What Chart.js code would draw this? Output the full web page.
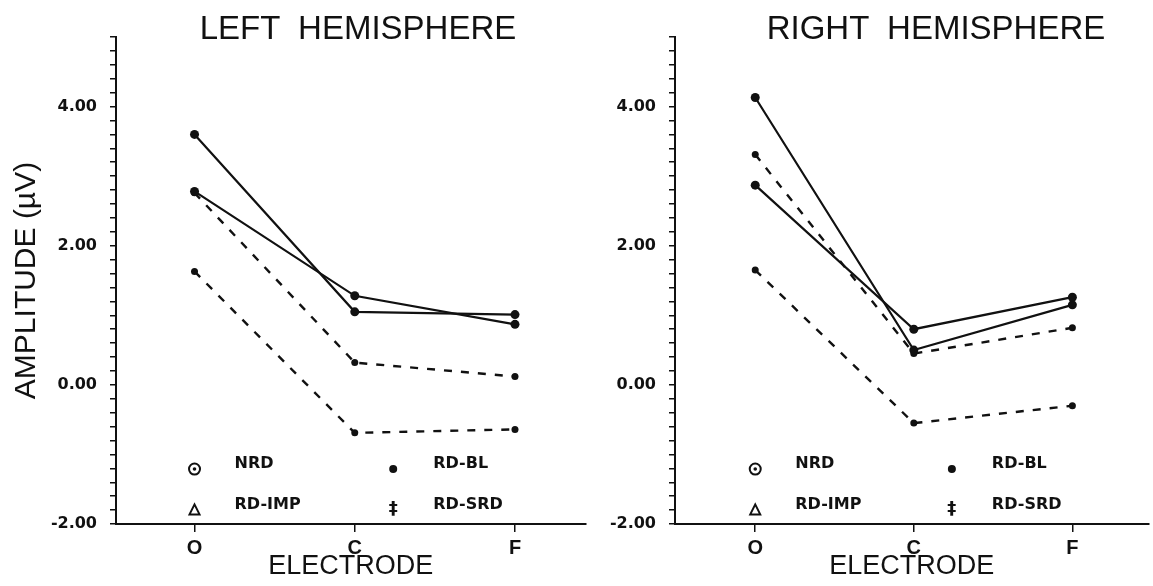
<!DOCTYPE html>
<html lang="en">
<head>
<meta charset="UTF-8">
<title>Amplitude by electrode</title>
<script src="https://cdn.jsdelivr.net/npm/chart.js"></script>
<style>
  body { margin: 0; background: #fff; }
  #wrap { position: relative; width: 1153px; height: 586px; overflow: hidden; }
  canvas { position: absolute; top: 0; }
  #leftChart { left: 0; }
  #rightChart { left: 590px; }
  .title {
    position: absolute; top: 11px;
    font: 33px 'Liberation Sans', sans-serif; line-height: 33px;
    white-space: pre; transform: translateX(-50%); color: #111;
  }
</style>
</head>
<body>
<div id="wrap">
  <canvas id="leftChart" width="590" height="586"></canvas>
  <canvas id="rightChart" width="563" height="586"></canvas>
  <div class="title" style="left:358px">LEFT  HEMISPHERE</div>
  <div class="title" style="left:936px">RIGHT  HEMISPHERE</div>
</div>
<script>
  // electrode sites on the x axis
  const electrodes = ['O', 'C', 'F'];
  const groups = ['NRD', 'RD-BL', 'RD-IMP', 'RD-SRD'];
  const labelledTicks = [-2, 0, 2, 4];

  // mean amplitude (µV) at O, C, F
  const leftNRD = [2.78, 1.28, 0.87];
  const leftRDBL = [3.60, 1.05, 1.01];
  const leftRDIMP = [2.76, 0.32, 0.12];
  const leftRDSRD = [1.63, -0.69, -0.64];

  const rightNRD = [2.87, 0.80, 1.26];
  const rightRDBL = [4.13, 0.50, 1.15];
  const rightRDIMP = [3.31, 0.45, 0.82];
  const rightRDSRD = [1.65, -0.55, -0.30];

  const INK = '#111';

  function drawSymbol(ctx, g, x, y) {
    ctx.save();
    ctx.strokeStyle = INK;
    ctx.fillStyle = INK;
    ctx.lineWidth = 2;
    if (g === 'NRD') {
      ctx.beginPath(); ctx.arc(x, y, 5.5, 0, Math.PI * 2); ctx.stroke();
      ctx.beginPath(); ctx.arc(x, y, 1.8, 0, Math.PI * 2); ctx.fill();
    } else if (g === 'RD-BL') {
      ctx.beginPath(); ctx.arc(x, y, 4, 0, Math.PI * 2); ctx.fill();
    } else if (g === 'RD-IMP') {
      ctx.beginPath();
      ctx.moveTo(x - 5, y + 5); ctx.lineTo(x + 5, y + 5); ctx.lineTo(x, y - 5);
      ctx.closePath(); ctx.stroke();
    } else {
      ctx.font = 'bold 18px "DejaVu Sans", sans-serif';
      ctx.textAlign = 'center'; ctx.textBaseline = 'middle';
      ctx.fillText('\u2021', x, y);
    }
    ctx.restore();
  }

  // 2x2 key inside the lower part of each plot
  const groupKey = {
    id: 'groupKey',
    afterDatasetsDraw(chart) {
      const { ctx, scales: { x, y } } = chart;
      const cols = [x.getPixelForValue(0), x.getPixelForValue(1.24)];
      const rows = [y.getPixelForValue(-1.21), y.getPixelForValue(-1.79)];
      const slots = [[0, 0], [1, 0], [0, 1], [1, 1]];
      ctx.save();
      ctx.font = 'bold 16px "DejaVu Sans", sans-serif';
      ctx.fillStyle = INK;
      ctx.textBaseline = 'middle';
      groups.forEach((g, i) => {
        const mx = cols[slots[i][0]], my = rows[slots[i][1]];
        drawSymbol(ctx, g, mx, my);
        ctx.fillText(g, mx + 40, my - 5);
      });
      ctx.restore();
    }
  };

  function series(values, dashed, radius) {
    return {
      data: values.map((v, i) => ({ x: i, y: v })),
      borderColor: INK,
      backgroundColor: INK,
      borderWidth: dashed ? 2.4 : 2.2,
      borderDash: dashed ? [8, 9] : [],
      pointRadius: radius,
      pointBorderWidth: 0,
      tension: 0
    };
  }

  function makeChart(id, data, cfg) {
    new Chart(document.getElementById(id), {
      type: 'line',
      data: {
        datasets: [
          series(data[0], false, 4.5),
          series(data[1], false, 4.5),
          series(data[2], true, 3.5),
          series(data[3], true, 3.5)
        ]
      },
      options: {
        responsive: false,
        animation: false,
        devicePixelRatio: 1,
        layout: { padding: { top: 37, right: cfg.padRight, left: 0, bottom: 0 } },
        plugins: { legend: { display: false }, tooltip: { enabled: false } },
        scales: {
          x: {
            type: 'linear',
            min: cfg.xMin,
            max: cfg.xMax,
            afterBuildTicks: s => { s.ticks = electrodes.map((_, i) => ({ value: i })); },
            afterFit: s => { s.height = 62; },
            border: { display: true, color: INK, width: 2 },
            grid: { drawOnChartArea: false, tickLength: 8, color: INK, lineWidth: 1.5 },
            ticks: {
              autoSkip: false, maxRotation: 0, padding: 4, color: INK,
              font: { family: 'Liberation Sans', size: 20, weight: 'bold' },
              callback: v => electrodes[v]
            },
            title: {
              display: true, text: 'ELECTRODE', color: INK,
              font: { family: 'Liberation Sans', size: 27 },
              padding: { top: 0, bottom: 3 }
            }
          },
          y: {
            min: -2,
            max: 5,
            afterFit: s => { s.width = cfg.yWidth; },
            border: { display: true, color: INK, width: 2 },
            grid: { drawOnChartArea: false, tickLength: 6, color: INK, lineWidth: 1.5 },
            ticks: {
              stepSize: 0.2, autoSkip: false, padding: 13, color: INK,
              font: { family: 'DejaVu Sans', size: 16, weight: 'bold' },
              callback: v => labelledTicks.some(t => Math.abs(t - v) < 1e-6) ? v.toFixed(2) : ''
            },
            title: {
              display: cfg.yTitle, text: 'AMPLITUDE (\u00b5V)', color: INK,
              font: { family: 'Liberation Sans', size: 30 },
              padding: { top: 9, bottom: 0 }
            }
          }
        }
      },
      plugins: [groupKey]
    });
  }

  makeChart('leftChart', [leftNRD, leftRDBL, leftRDIMP, leftRDSRD],
    { yWidth: 116, padRight: 4, xMin: -0.49, xMax: 2.44, yTitle: true });
  makeChart('rightChart', [rightNRD, rightRDBL, rightRDIMP, rightRDSRD],
    { yWidth: 85, padRight: 0, xMin: -0.506, xMax: 2.48, yTitle: false });
</script>
</body>
</html>
